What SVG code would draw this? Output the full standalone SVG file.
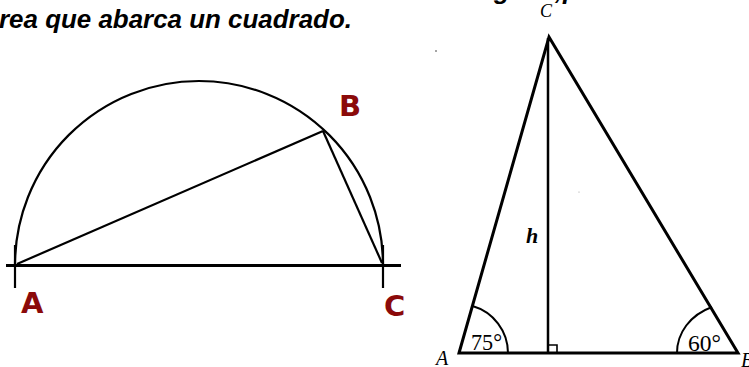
<svg xmlns="http://www.w3.org/2000/svg" width="749" height="367" viewBox="0 0 749 367">
<style>
.title{font-family:"Liberation Sans",Arial,sans-serif;font-weight:bold;font-style:italic;font-size:26px;fill:#000}
.lbl{font-family:"DejaVu Sans",Verdana,sans-serif;font-weight:bold;font-size:29px;fill:#8b0a0a}
.ser{font-family:"Liberation Serif","Times New Roman",serif;fill:#000}
.it{font-style:italic}
.thin{fill:none;stroke:#000;stroke-width:2.2}
.thick{fill:none;stroke:#000;stroke-width:3}
.tri{fill:none;stroke:#000;stroke-width:3;stroke-linejoin:miter}
</style>
<rect width="749" height="367" fill="#fff"/>
<text class="title" x="-1" y="28" textLength="353" lengthAdjust="spacingAndGlyphs">rea que abarca un cuadrado.</text>
<text class="title" x="494" y="-1">g</text>
<text class="title" x="555" y="-1">,</text>
<text class="title" x="563" y="-1">p</text>

<g id="semicircle">
<path class="thin" d="M15,265 A184,184 0 0 1 383,265"/>
<line class="thin" x1="15" y1="245" x2="15" y2="288"/>
<line class="thin" x1="383" y1="245" x2="383" y2="288"/>
<line class="thick" x1="6" y1="265.5" x2="401" y2="265.5"/>
</g>
<g id="chords">
<line class="thin" x1="17" y1="264" x2="323" y2="131"/>
<line class="thin" x1="323" y1="131" x2="382" y2="263"/>
</g>
<g id="label-A"><text class="lbl" x="21" y="313">A</text></g>
<g id="label-B"><text class="lbl" x="339" y="116">B</text></g>
<g id="label-C"><text class="lbl" x="384" y="316">C</text></g>

<g id="triangle">
<path class="tri" d="M459,353 L549,37 L738,353 Z"/>
<line x1="548" y1="38" x2="548" y2="353" stroke="#000" stroke-width="2.5"/>
<path d="M548,345 H557 V353" fill="none" stroke="#000" stroke-width="1.6"/>
<path d="M508,353 A49,49 0 0 0 472.5,306" fill="none" stroke="#000" stroke-width="2"/>
<path d="M677,353 C677,333 690,315 712,307" fill="none" stroke="#000" stroke-width="2"/>
</g>
<g id="triangle-labels">
<text class="ser" x="471" y="350" font-size="23" textLength="31" lengthAdjust="spacingAndGlyphs">75°</text>
<text class="ser" x="688" y="351" font-size="23" textLength="33" lengthAdjust="spacingAndGlyphs">60°</text>
<text class="ser it" x="436" y="365" font-size="20">A</text>
<text class="ser it" x="741" y="367" font-size="20">B</text>
<text class="ser it" x="540" y="17" font-size="18">C</text>
<text class="ser it" x="526" y="243" font-size="22" font-weight="bold">h</text>
</g>
<circle cx="436" cy="51" r="0.8" fill="#333"/>
<circle cx="579" cy="192" r="0.6" fill="#999"/>
</svg>
